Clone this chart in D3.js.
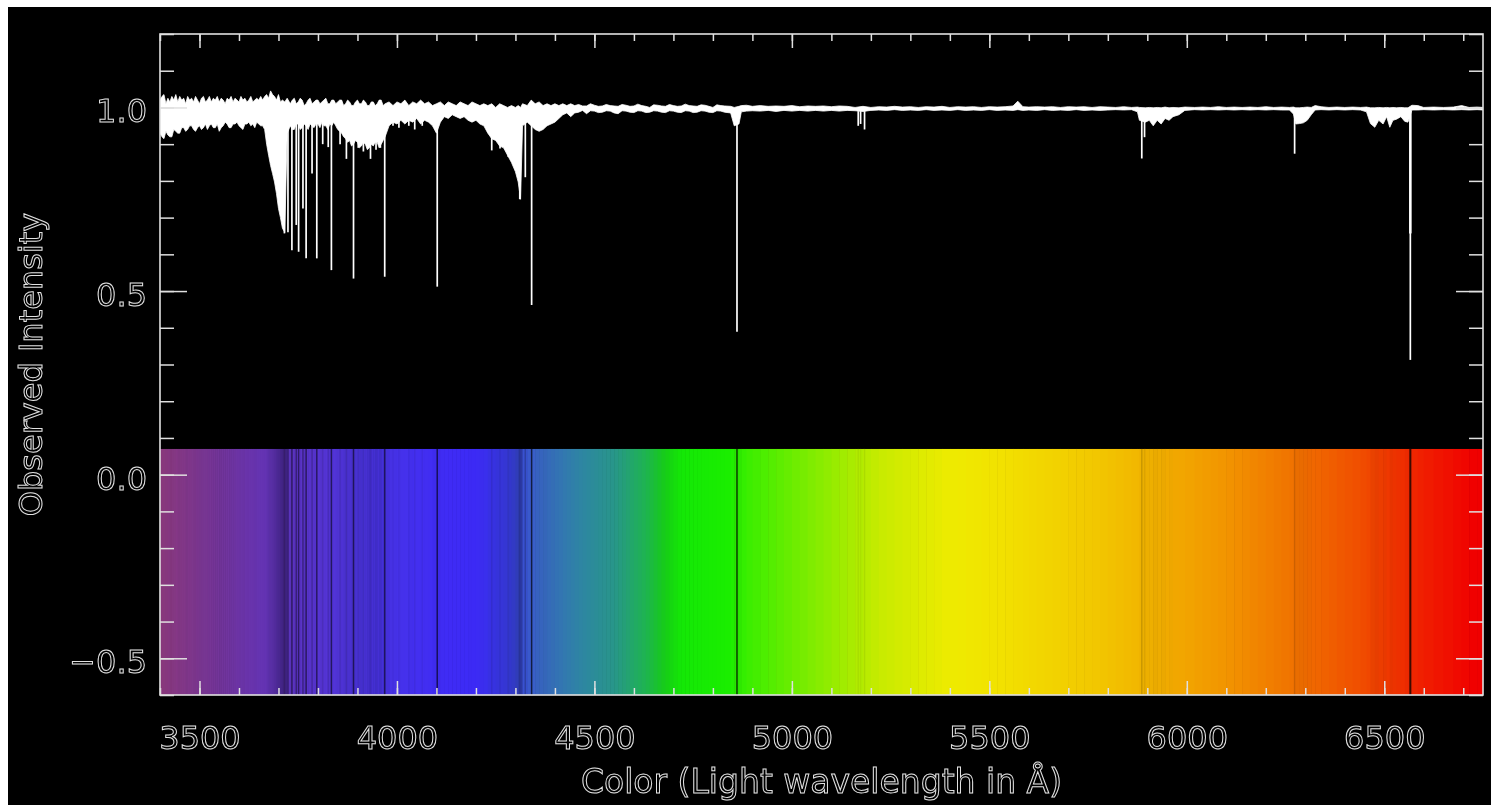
<!DOCTYPE html>
<html>
<head>
<meta charset="utf-8">
<script src="https://cdn.jsdelivr.net/npm/d3@7/dist/d3.min.js"></script>
<style>
  html, body { margin: 0; padding: 0; background: #fff; }
  svg { display: block; }
  .lbl { font-family: "DejaVu Sans", sans-serif; fill: none; stroke: #e2e2e2; stroke-width: 1; filter: grayscale(1); }
</style>
</head>
<body>
<svg id="chart" width="1491" height="805"></svg>
<script>
// Envelope of the observed spectrum: [wavelength (A), lowest, highest]
const envBlue = [
  [3400, 0.93, 1.02], [3405, 0.92, 1.03], [3410, 0.915, 1.035], [3415, 0.935, 1.01],
  [3420, 0.925, 1.025], [3425, 0.92, 1.015], [3430, 0.92, 1.03], [3435, 0.94, 1.02],
  [3440, 0.935, 1.035], [3445, 0.93, 1.015], [3450, 0.93, 1.03], [3455, 0.945, 1.02],
  [3460, 0.945, 1.025], [3465, 0.935, 1.01], [3470, 0.94, 1.03], [3475, 0.95, 1.02],
  [3480, 0.95, 1.025], [3485, 0.94, 1.015], [3490, 0.935, 1.03], [3495, 0.945, 1.02],
  [3500, 0.95, 1.01], [3505, 0.94, 1.025], [3510, 0.945, 1.03], [3515, 0.955, 1.015],
  [3520, 0.94, 1.02], [3525, 0.95, 1.03], [3530, 0.955, 1.015], [3535, 0.945, 1.025],
  [3540, 0.945, 1.02], [3545, 0.955, 1.03], [3550, 0.935, 1.015], [3555, 0.945, 1.025],
  [3560, 0.95, 1.02], [3565, 0.96, 1.01], [3570, 0.955, 1.025], [3575, 0.945, 1.02],
  [3580, 0.945, 1.03], [3585, 0.955, 1.015], [3590, 0.955, 1.025], [3595, 0.96, 1.02],
  [3600, 0.95, 1.015], [3605, 0.945, 1.03], [3610, 0.94, 1.02], [3615, 0.955, 1.025],
  [3620, 0.955, 1.015], [3625, 0.96, 1.02], [3630, 0.95, 1.03], [3635, 0.955, 1.015],
  [3640, 0.945, 1.02], [3645, 0.96, 1.025], [3650, 0.955, 1.02], [3655, 0.95, 1.03],
  [3660, 0.95, 1.02], [3665, 0.94, 1.03], [3670, 0.90, 1.035], [3675, 0.87, 1.025],
  [3680, 0.842, 1.045], [3685, 0.82, 1.035], [3690, 0.797, 1.03], [3695, 0.765, 1.02],
  [3700, 0.725, 1.035], [3705, 0.70, 1.015], [3710, 0.671, 1.02], [3716, 0.66, 1.015],
  [3722, 0.93, 1.025], [3730, 0.95, 1.01], [3735, 0.94, 1.02], [3740, 0.94, 1.025],
  [3745, 0.955, 1.01], [3750, 0.955, 1.015], [3755, 0.94, 1.025], [3760, 0.945, 1.02],
  [3765, 0.955, 1.005], [3770, 0.95, 1.01], [3775, 0.94, 1.02], [3780, 0.955, 1.025],
  [3785, 0.95, 1.01], [3790, 0.945, 1.015], [3795, 0.955, 1.02], [3800, 0.955, 1.02],
  [3805, 0.945, 1.01], [3810, 0.96, 1.015], [3815, 0.95, 1.02], [3820, 0.95, 1.025],
  [3825, 0.94, 1.01], [3830, 0.955, 1.01], [3835, 0.95, 1.02], [3840, 0.96, 1.02],
  [3845, 0.95, 1.01], [3850, 0.94, 1.015], [3855, 0.935, 1.02], [3860, 0.93, 1.02],
  [3865, 0.92, 1.005], [3870, 0.915, 1.01], [3875, 0.905, 1.02], [3880, 0.91, 1.015],
  [3885, 0.895, 1.005], [3890, 0.90, 1.005], [3895, 0.91, 1.015], [3900, 0.905, 1.02],
  [3905, 0.89, 1.01], [3910, 0.895, 1.01], [3915, 0.905, 1.02], [3920, 0.90, 1.015],
  [3925, 0.885, 1.005], [3930, 0.89, 1.005], [3935, 0.90, 1.015], [3940, 0.895, 1.015],
  [3945, 0.905, 1.005], [3950, 0.905, 1.01], [3955, 0.89, 1.02], [3960, 0.90, 1.02],
  [3965, 0.91, 1.005], [3970, 0.92, 1.01], [3980, 0.95, 1.015],
  [3990, 0.96, 1.005], [4000, 0.955, 1.015], [4010, 0.965, 1.01], [4020, 0.955, 1.02],
  [4030, 0.965, 1.005], [4040, 0.96, 1.015], [4050, 0.97, 1.01], [4060, 0.955, 1.02],
  [4070, 0.965, 1.01], [4080, 0.96, 1.015], [4090, 0.95, 1.005], [4100, 0.93, 1.01],
  [4110, 0.96, 1.015], [4120, 0.975, 1.005], [4130, 0.97, 1.015], [4140, 0.98, 1.01],
  [4150, 0.975, 1.005], [4160, 0.97, 1.015], [4170, 0.975, 1.01], [4180, 0.965, 1.005],
  [4190, 0.96, 1.015], [4200, 0.965, 1.01], [4210, 0.955, 1.005], [4220, 0.95, 1.01],
  [4230, 0.93, 1.005], [4240, 0.915, 1.01], [4250, 0.91, 1.0], [4260, 0.895, 1.01],
  [4270, 0.89, 1.005], [4280, 0.87, 1.0], [4290, 0.85, 1.005], [4300, 0.825, 1.0],
  [4307, 0.797, 1.005], [4313, 0.75, 1.0], [4318, 0.95, 1.01], [4330, 0.96, 1.005],
  [4340, 0.95, 1.02], [4350, 0.94, 1.01], [4360, 0.935, 1.015], [4370, 0.94, 1.005],
  [4380, 0.95, 1.01], [4390, 0.955, 1.005], [4400, 0.96, 1.01], [4410, 0.97, 1.005],
  [4420, 0.98, 1.01], [4430, 0.985, 1.005], [4440, 0.975, 1.01], [4450, 0.985, 1.005]
];

const envMid = [
  [4460, 0.987, 1.008], [4470, 0.992, 1.004], [4480, 0.983, 1.004], [4490, 0.991, 1.01],
  [4500, 0.99, 1.006], [4510, 0.986, 1.003], [4520, 0.987, 1.004], [4530, 0.991, 1.008],
  [4540, 0.99, 1.005], [4550, 0.985, 1.004], [4560, 0.983, 1.003], [4570, 0.991, 1.008],
  [4580, 0.99, 1.006], [4590, 0.987, 1.003], [4600, 0.986, 1.004], [4610, 0.991, 1.009],
  [4620, 0.99, 1.005], [4630, 0.986, 1.003], [4640, 0.987, 1.0], [4650, 0.991, 1.007],
  [4660, 0.99, 1.006], [4670, 0.987, 1.004], [4680, 0.986, 1.003], [4690, 0.991, 1.008],
  [4700, 0.99, 1.005], [4710, 0.987, 1.003], [4720, 0.986, 1.004], [4730, 0.991, 1.009],
  [4740, 0.99, 1.005], [4750, 0.986, 1.004], [4760, 0.987, 1.003], [4770, 0.991, 1.007],
  [4780, 0.99, 1.006], [4790, 0.987, 1.003], [4800, 0.986, 1.0], [4810, 0.991, 1.007],
  [4820, 0.99, 1.005], [4830, 0.987, 1.004], [4845, 0.985, 1.003],
  [4854, 0.95, 1.0], [4866, 0.955, 1.003], [4872, 0.988, 1.005], [4885, 0.99, 1.006],
  [4900, 0.991, 1.003], [4920, 0.99, 1.005], [4940, 0.992, 1.003], [4960, 0.989, 1.004],
  [4980, 0.992, 1.003], [5000, 0.99, 1.005], [5020, 0.992, 1.002], [5040, 0.99, 1.004],
  [5060, 0.992, 1.003], [5080, 0.99, 1.004], [5100, 0.992, 1.002], [5120, 0.99, 1.004],
  [5140, 0.992, 1.003], [5160, 0.991, 1.0], [5180, 0.989, 1.003], [5200, 0.992, 1.0],
  [5220, 0.993, 1.002], [5240, 0.992, 1.001], [5260, 0.994, 1.003], [5280, 0.992, 1.001],
  [5300, 0.993, 1.002], [5320, 0.992, 1.0], [5340, 0.994, 1.002], [5360, 0.992, 1.001],
  [5380, 0.993, 1.003], [5400, 0.992, 1.0], [5420, 0.994, 1.002], [5440, 0.992, 1.001],
  [5460, 0.993, 1.002], [5480, 0.992, 1.0], [5500, 0.994, 1.002], [5520, 0.992, 1.001],
  [5540, 0.993, 1.002], [5560, 0.992, 1.004], [5572, 0.994, 1.017], [5585, 0.992, 1.002],
  [5600, 0.993, 1.001], [5620, 0.992, 1.002], [5640, 0.994, 1.001], [5660, 0.992, 1.002],
  [5680, 0.993, 1.0], [5700, 0.992, 1.002], [5720, 0.994, 1.001], [5740, 0.992, 1.002],
  [5760, 0.993, 1.0], [5780, 0.992, 1.002]
];

const envRed = [
  [5800, 0.993, 1.001], [5820, 0.994, 1.0], [5840, 0.993, 1.002], [5860, 0.994, 1.0],
  [5875, 0.988, 1.001], [5880, 0.965, 1.0], [5895, 0.96, 0.999], [5905, 0.965, 1.0],
  [5915, 0.95, 0.999], [5925, 0.965, 1.0], [5935, 0.955, 0.999], [5945, 0.97, 1.001],
  [5955, 0.965, 0.999], [5965, 0.975, 1.0], [5980, 0.98, 0.999], [5995, 0.992, 1.001],
  [6020, 0.994, 1.0], [6040, 0.993, 1.001], [6060, 0.994, 1.0], [6080, 0.993, 1.002],
  [6100, 0.994, 1.0], [6120, 0.993, 1.001], [6140, 0.994, 1.0], [6160, 0.993, 1.001],
  [6180, 0.994, 1.0], [6200, 0.993, 1.002], [6220, 0.994, 1.0], [6240, 0.993, 1.001],
  [6260, 0.993, 1.0], [6270, 0.982, 1.001], [6276, 0.955, 0.999], [6285, 0.956, 0.999],
  [6295, 0.958, 1.0], [6305, 0.965, 1.001], [6315, 0.98, 1.0], [6325, 0.993, 1.005],
  [6340, 0.994, 1.002], [6360, 0.993, 1.0], [6380, 0.994, 1.001], [6400, 0.993, 1.0],
  [6420, 0.994, 1.001], [6440, 0.993, 1.0], [6455, 0.988, 1.001], [6465, 0.956, 0.999],
  [6476, 0.946, 0.999], [6486, 0.965, 1.0], [6497, 0.955, 0.999], [6506, 0.975, 1.0],
  [6514, 0.946, 0.999], [6522, 0.965, 1.0], [6531, 0.968, 0.999], [6542, 0.975, 1.0],
  [6552, 0.962, 0.999], [6560, 0.96, 0.999], [6570, 0.993, 1.006], [6585, 0.993, 1.005],
  [6600, 0.994, 1.0], [6625, 0.993, 1.001], [6650, 0.994, 1.0], [6675, 0.993, 1.001],
  [6696, 0.994, 1.005], [6715, 0.993, 1.0], [6735, 0.994, 1.001], [6750, 0.993, 1.0]
];

// Narrow absorption lines: [wavelength (A), minimum intensity]
const absLines = [
  [3715, 0.657], [3724, 0.66], [3734, 0.611], [3745, 0.68], [3751, 0.607], [3762, 0.725],
  [3770, 0.589], [3785, 0.82], [3797, 0.589], [3812, 0.90], [3826, 0.892], [3834, 0.557],
  [3856, 0.90], [3872, 0.86], [3890, 0.534], [3902, 0.89], [3915, 0.88], [3933, 0.86],
  [3947, 0.885], [3958, 0.89], [3969, 0.539], [3990, 0.95], [4005, 0.945], [4030, 0.95],
  [4045, 0.94], [4064, 0.95], [4102, 0.512], [4240, 0.883], [4261, 0.888], [4282, 0.865],
  [4311, 0.75], [4325, 0.81], [4341, 0.462], [4861, 0.389], [5168, 0.95], [5174, 0.955], [5184, 0.94],
  [5886, 0.861], [5893, 0.919], [6273, 0.874], [6565, 0.657], [6567, 0.657], [6566, 0.3125]
];

// Colour of light at each wavelength, read from the strip
const colorWave = [3400, 3500, 3600, 3700, 3800, 3900, 4000, 4100, 4200, 4290, 4350, 4460,
  4550, 4630, 4680, 4720, 4840, 4890, 5055, 5225, 5400, 5530, 5760, 5930, 6100, 6265, 6430, 6600, 6730];
const colorRGB = ['#8e3a80', '#7a3690', '#6c34a6', '#6034bc', '#5634d2', '#4c34de', '#4632ea', '#402cf4',
  '#3c2af6', '#3a40e6', '#3a62c8', '#2e84a4', '#28968a', '#1eb450', '#16cc16', '#14e806', '#1aee00',
  '#3cee00', '#82ec00', '#c8eb00', '#eeeb00', '#f2e100', '#f2c800', '#f2af00', '#f29400', '#f07300',
  '#f05000', '#f01e00', '#f00000'];

const xMajor = [3500, 4000, 4500, 5000, 5500, 6000, 6500];
const yMajor = [-0.5, 0.0, 0.5, 1.0];
const xTitle = 'Color (Light wavelength in \u00c5)';
const yTitle = 'Observed Intensity';

const W = 1491, H = 805;
const plot = { left: 160, right: 1483, top: 34, bottom: 695 };
const barTop = 0.07;

const svg = d3.select('#chart');
const x = d3.scaleLinear().domain([3400, 6750]).range([plot.left, plot.right]);
const y = d3.scaleLinear().domain([-0.6, 1.2]).range([plot.bottom, plot.top]);
const baseColor = d3.scaleLinear().domain(colorWave).range(colorRGB).clamp(true);

const env = envBlue.concat(envMid, envRed);

// Background
svg.append('rect').attr('x', 8).attr('y', 7).attr('width', W - 8).attr('height', H - 7).attr('fill', '#000');

svg.append('clipPath').attr('id', 'clip').append('rect')
  .attr('x', plot.left).attr('y', plot.top)
  .attr('width', plot.right - plot.left).attr('height', plot.bottom - plot.top);

const g = svg.append('g').attr('clip-path', 'url(#clip)');

// Darkening of the colour strip follows the observed intensity
const shade = (col, v, k, floor) => {
  const f = Math.max(floor, Math.min(1, 1 - k * (0.99 - v)));
  const c = d3.rgb(col);
  return d3.rgb(c.r * f, c.g * f, c.b * f).toString();
};

// Colour strip
const strip = g.append('g');
strip.selectAll('rect.seg')
  .data(env.slice(0, -1).map((d, i) => [d, env[i + 1]]))
  .join('rect')
  .attr('class', 'seg')
  .attr('x', d => x(d[0][0]))
  .attr('width', d => x(d[1][0]) - x(d[0][0]) + 0.6)
  .attr('y', y(barTop))
  .attr('height', y(-0.6) - y(barTop))
  .attr('fill', d => shade(baseColor((d[0][0] + d[1][0]) / 2), (d[0][1] + d[0][2]) / 2, 2.2, 0.5));

strip.selectAll('rect.line')
  .data(absLines)
  .join('rect')
  .attr('class', 'line')
  .attr('x', d => x(d[0]) - 0.75)
  .attr('width', 1.5)
  .attr('y', y(barTop))
  .attr('height', y(-0.6) - y(barTop))
  .attr('fill', d => shade(baseColor(d[0]), d[1], 1.3, 0.25));

// Observed spectrum
const area = d3.area()
  .x(d => x(d[0]))
  .y0(d => y(d[1]))
  .y1(d => y(d[2]));

g.append('path')
  .datum(env)
  .attr('d', area)
  .attr('fill', '#fff')
  .attr('stroke', '#fff')
  .attr('stroke-width', 0.8);

g.selectAll('line.abs')
  .data(absLines)
  .join('line')
  .attr('class', 'abs')
  .attr('x1', d => x(d[0])).attr('x2', d => x(d[0]))
  .attr('y1', y(0.99)).attr('y2', d => y(d[1]))
  .attr('stroke', '#fff')
  .attr('stroke-width', 1.7);

// Axes: ticks point inwards on all four sides
const axisCol = '#e0e0e0';
const xMinor = d3.range(3400, 6701, 100);
const yMinor = d3.range(-6, 13).map(k => k / 10);

function styleAxis(sel) {
  sel.select('.domain').remove();
  sel.selectAll('.tick line').attr('stroke', axisCol).attr('stroke-width', 1.5);
  sel.selectAll('.tick text').attr('class', 'lbl').attr('font-size', 32);
}

const xb = d3.axisBottom(x).tickValues(xMajor).tickSize(-14).tickPadding(31).tickFormat(d3.format('d'));
svg.append('g').attr('transform', `translate(0,${plot.bottom})`).call(xb).call(styleAxis);
svg.append('g').attr('transform', `translate(0,${plot.bottom})`)
  .call(d3.axisBottom(x).tickValues(xMinor).tickSize(-7).tickFormat('')).call(styleAxis);
svg.append('g').attr('transform', `translate(0,${plot.top})`)
  .call(d3.axisTop(x).tickValues(xMajor).tickSize(-14).tickFormat('')).call(styleAxis);
svg.append('g').attr('transform', `translate(0,${plot.top})`)
  .call(d3.axisTop(x).tickValues(xMinor).tickSize(-7).tickFormat('')).call(styleAxis);

const yl = d3.axisLeft(y).tickValues(yMajor).tickSize(-27).tickPadding(13).tickFormat(d3.format('.1f'));
svg.append('g').attr('transform', `translate(${plot.left},0)`).call(yl).call(styleAxis)
  .selectAll('.tick text').attr('dy', '0.45em');
svg.append('g').attr('transform', `translate(${plot.left},0)`)
  .call(d3.axisLeft(y).tickValues(yMinor).tickSize(-14).tickFormat('')).call(styleAxis);
svg.append('g').attr('transform', `translate(${plot.right},0)`)
  .call(d3.axisRight(y).tickValues(yMajor).tickSize(-27).tickFormat('')).call(styleAxis);
svg.append('g').attr('transform', `translate(${plot.right},0)`)
  .call(d3.axisRight(y).tickValues(yMinor).tickSize(-14).tickFormat('')).call(styleAxis);

// Frame
svg.append('rect')
  .attr('x', plot.left).attr('y', plot.top)
  .attr('width', plot.right - plot.left).attr('height', plot.bottom - plot.top)
  .attr('fill', 'none').attr('stroke', axisCol).attr('stroke-width', 1.6);

// Titles
svg.append('text').attr('class', 'lbl')
  .attr('x', (plot.left + plot.right) / 2).attr('y', 793)
  .attr('text-anchor', 'middle').attr('font-size', 33)
  .text(xTitle);

svg.append('text').attr('class', 'lbl')
  .attr('transform', `translate(42,${(plot.top + plot.bottom) / 2}) rotate(-90)`)
  .attr('text-anchor', 'middle').attr('font-size', 32)
  .text(yTitle);
</script>
</body>
</html>
